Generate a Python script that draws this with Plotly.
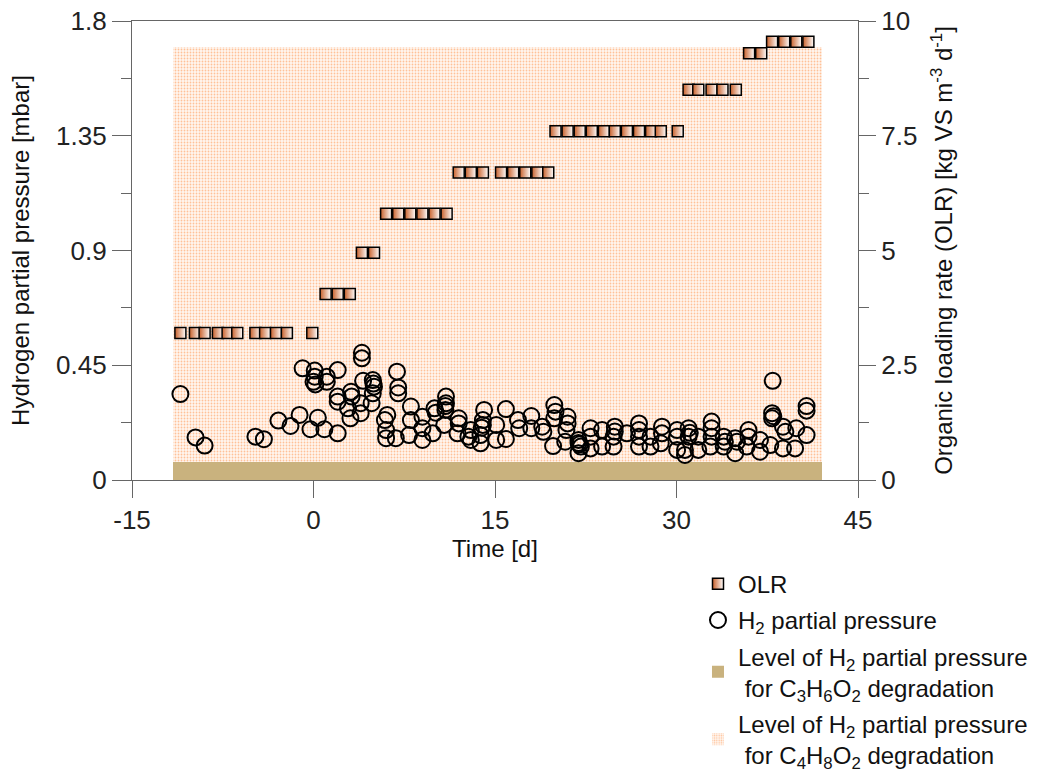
import plotly.graph_objects as go

# ---- data ----
olr_day = [-11.0, -9.8, -9.0, -7.9, -7.1, -6.3, -4.8, -4.0, -3.1, -2.2, -0.1,
           1.0, 2.0, 3.0,
           4.0, 5.0,
           6.0, 7.0, 8.0, 9.0, 10.0, 11.0,
           12.0, 13.0, 14.0, 15.5, 16.5, 17.5, 18.5, 19.4,
           20.0, 21.0, 22.0, 23.0, 24.0, 24.9, 25.9, 26.9, 27.9, 28.7, 30.1,
           31.0, 31.8, 32.9, 33.8, 34.9,
           36.0, 37.0,
           37.9, 38.9, 39.9, 40.9]
olr_val = [3.2] * 11 + [4.05] * 3 + [4.95] * 2 + [5.8] * 6 + [6.7] * 8 + \
          [7.6] * 11 + [8.5] * 5 + [9.3] * 2 + [9.55] * 4

h2_day = [-11.0, -9.75, -9.0, -4.8, -4.1, -2.9, -1.9, -1.15, -0.9, -0.25,
          0.36, 0.1, 0.1, 0.0, 0.15, 0.9, 1.1, 1.1, 2.0, 2.0,
          2.0, 2.0, 2.85, 3.05, 3.1, 3.15, 3.9, 3.9, 4.0, 4.0,
          4.1, 4.9, 5.0, 4.9, 4.8, 5.9, 6.1, 6.0, 6.0, 6.9,
          7.0, 7.0, 6.8, 8.05, 8.05, 7.9, 9.0, 9.0, 9.0, 10.0,
          10.1, 9.85, 10.95, 10.95, 10.9, 10.8, 12.0, 12.0, 11.9, 13.0,
          13.0, 12.8, 14.1, 14.0, 14.0, 13.8, 13.8, 15.1, 15.1, 15.9,
          15.9, 16.9, 17.0, 18.0, 18.0, 18.9, 19.0, 19.9, 20.0, 19.9,
          19.8, 21.0, 21.0, 20.9, 20.8, 21.9, 22.1, 21.9, 22.9, 22.9,
          22.9, 23.85, 23.85, 24.9, 24.8, 24.8, 25.9, 26.9, 26.9, 26.9,
          26.9, 27.85, 27.85, 28.8, 28.8, 28.7, 30.05, 30.05, 30.05, 30.7,
          30.7, 31.0, 31.0, 31.8, 31.8, 32.9, 32.9, 32.9, 32.8, 33.9,
          33.9, 34.85, 34.85, 35.95, 35.95, 35.8, 36.9, 36.9, 37.95, 37.9,
          37.9, 37.75, 38.8, 39.0, 38.8, 39.9, 39.8, 40.75, 40.75, 40.75,
          4.95, 10.9, 13.9, 21.9, 24.9, 31.1, 34.0, 35.0, 38.0, 22.0]
h2_val = [0.337, 0.167, 0.135, 0.170, 0.160, 0.233, 0.212, 0.255, 0.438, 0.199,
          0.244, 0.429, 0.405, 0.385, 0.375, 0.199, 0.405, 0.385, 0.431, 0.183,
          0.327, 0.307, 0.281, 0.242, 0.346, 0.327, 0.301, 0.262, 0.499, 0.477,
          0.389, 0.392, 0.366, 0.340, 0.301, 0.235, 0.255, 0.196, 0.164, 0.425,
          0.363, 0.340, 0.164, 0.288, 0.235, 0.176, 0.248, 0.203, 0.157, 0.281,
          0.264, 0.183, 0.327, 0.301, 0.275, 0.216, 0.242, 0.222, 0.183, 0.196,
          0.157, 0.170, 0.275, 0.235, 0.216, 0.176, 0.144, 0.216, 0.157, 0.278,
          0.161, 0.235, 0.203, 0.251, 0.203, 0.209, 0.189, 0.294, 0.268, 0.242,
          0.133, 0.248, 0.222, 0.196, 0.150, 0.157, 0.131, 0.105, 0.203, 0.170,
          0.124, 0.196, 0.131, 0.209, 0.170, 0.131, 0.183, 0.222, 0.196, 0.170,
          0.131, 0.170, 0.131, 0.209, 0.183, 0.144, 0.196, 0.170, 0.118, 0.118,
          0.098, 0.203, 0.170, 0.170, 0.118, 0.229, 0.203, 0.170, 0.131, 0.170,
          0.131, 0.164, 0.105, 0.196, 0.170, 0.131, 0.157, 0.111, 0.389, 0.262,
          0.242, 0.137, 0.209, 0.189, 0.124, 0.203, 0.124, 0.290, 0.272, 0.176,
          0.378, 0.290, 0.205, 0.145, 0.190, 0.185, 0.150, 0.150, 0.250, 0.140]

x_ticks = [-15, 0, 15, 30, 45]
x_ticktext = ["-15", "0", "15", "30", "45"]
y_ticks = [0, 0.45, 0.9, 1.35, 1.8]
y_ticktext = ["0", "0.45", "0.9", "1.35", "1.8"]
y2_ticks = [0, 2.5, 5, 7.5, 10]
y2_ticktext = ["0", "2.5", "5", "7.5", "10"]

# shaded levels: [x start, x end] in days, top in mbar
level_x = [-11.6, 42.0]
level_c4_top = 1.70
level_c3_top = 0.07

FONT = "Arial, Liberation Sans, sans-serif"
fig = go.Figure()

xc = (level_x[0] + level_x[1]) / 2
xw = level_x[1] - level_x[0]

fig.add_trace(go.Bar(
    x=[xc], y=[level_c4_top], base=0, width=[xw],
    name="Level of H<sub>2</sub> partial pressure<br> for C<sub>4</sub>H<sub>8</sub>O<sub>2</sub> degradation",
    marker=dict(color="#fff6f0", line=dict(width=0),
                pattern=dict(shape=".", fgcolor="#ff8c40", bgcolor="#fff6f0",
                             size=3, solidity=0.3)),
    legendgroup="d", legendrank=4, hoverinfo="skip"))

fig.add_trace(go.Bar(
    x=[xc], y=[level_c3_top], base=0, width=[xw],
    name="Level of H<sub>2</sub> partial pressure<br> for C<sub>3</sub>H<sub>6</sub>O<sub>2</sub> degradation",
    marker=dict(color="#c9b27e", line=dict(width=0)),
    legendgroup="c", legendrank=3, hoverinfo="skip"))

fig.add_trace(go.Scatter(
    x=h2_day, y=h2_val, mode="markers", name="H<sub>2</sub> partial pressure",
    marker=dict(symbol="circle-open", size=16, color="black", line=dict(width=2, color="black")),
    legendgroup="b", legendrank=2))

fig.add_trace(go.Scatter(
    x=olr_day, y=olr_val, mode="markers", name="OLR", yaxis="y2",
    marker=dict(symbol="square", size=11, color="#c8602a",
                gradient=dict(type="horizontal", color="white"),
                line=dict(width=1.5, color="black")),
    legendgroup="a", legendrank=1))

axis_common = dict(showline=True, linecolor="#666", linewidth=1.3, ticks="outside",
                   tickcolor="#666", tickwidth=1.3, showgrid=False, zeroline=False,
                   automargin=False, ticklabeloverflow="allow",
                   tickfont=dict(family=FONT, size=26, color="#222"))

fig.update_layout(
    width=1043, height=774,
    margin=dict(l=132, r=185, t=21, b=294, autoexpand=False),
    paper_bgcolor="white", plot_bgcolor="white",
    barmode="overlay", bargap=0,
    font=dict(family=FONT, size=24, color="#111"),
    xaxis=dict(range=[-15, 45], tickvals=x_ticks, ticktext=x_ticktext, ticklen=17,
               mirror=True,
               title=dict(text="Time [d]", font=dict(size=24), standoff=2),
               **axis_common),
    yaxis=dict(range=[0, 1.8], tickvals=y_ticks, ticktext=y_ticktext, ticklen=19,
               minor=dict(ticks="outside", tickvals=[0.225, 0.675, 1.125, 1.575],
                          ticklen=10, tickcolor="#666", tickwidth=1.3),
               title=dict(text="Hydrogen partial pressure [mbar]", font=dict(size=24), standoff=19),
               **axis_common),
    yaxis2=dict(range=[0, 10], tickvals=y2_ticks, ticktext=y2_ticktext, ticklen=17,
                overlaying="y", side="right",
                minor=dict(ticks="outside", tickvals=[1.25, 3.75, 6.25, 8.75],
                           ticklen=10, tickcolor="#666", tickwidth=1.3),
                title=dict(text="Organic loading rate (OLR) [kg VS m<sup>-3</sup> d<sup>-1</sup>]",
                           font=dict(size=24), standoff=18),
                **axis_common),
    legend=dict(x=0.7796, y=-0.178, xanchor="left", yanchor="top",
                bgcolor="rgba(0,0,0,0)", font=dict(family=FONT, size=24, color="#111"),
                traceorder="grouped", itemwidth=30, tracegroupgap=2),
    showlegend=True,
)

fig.write_html("out.html", config={"displayModeBar": False},
               post_script="document.body.style.margin='0';document.body.style.overflow='hidden';")
